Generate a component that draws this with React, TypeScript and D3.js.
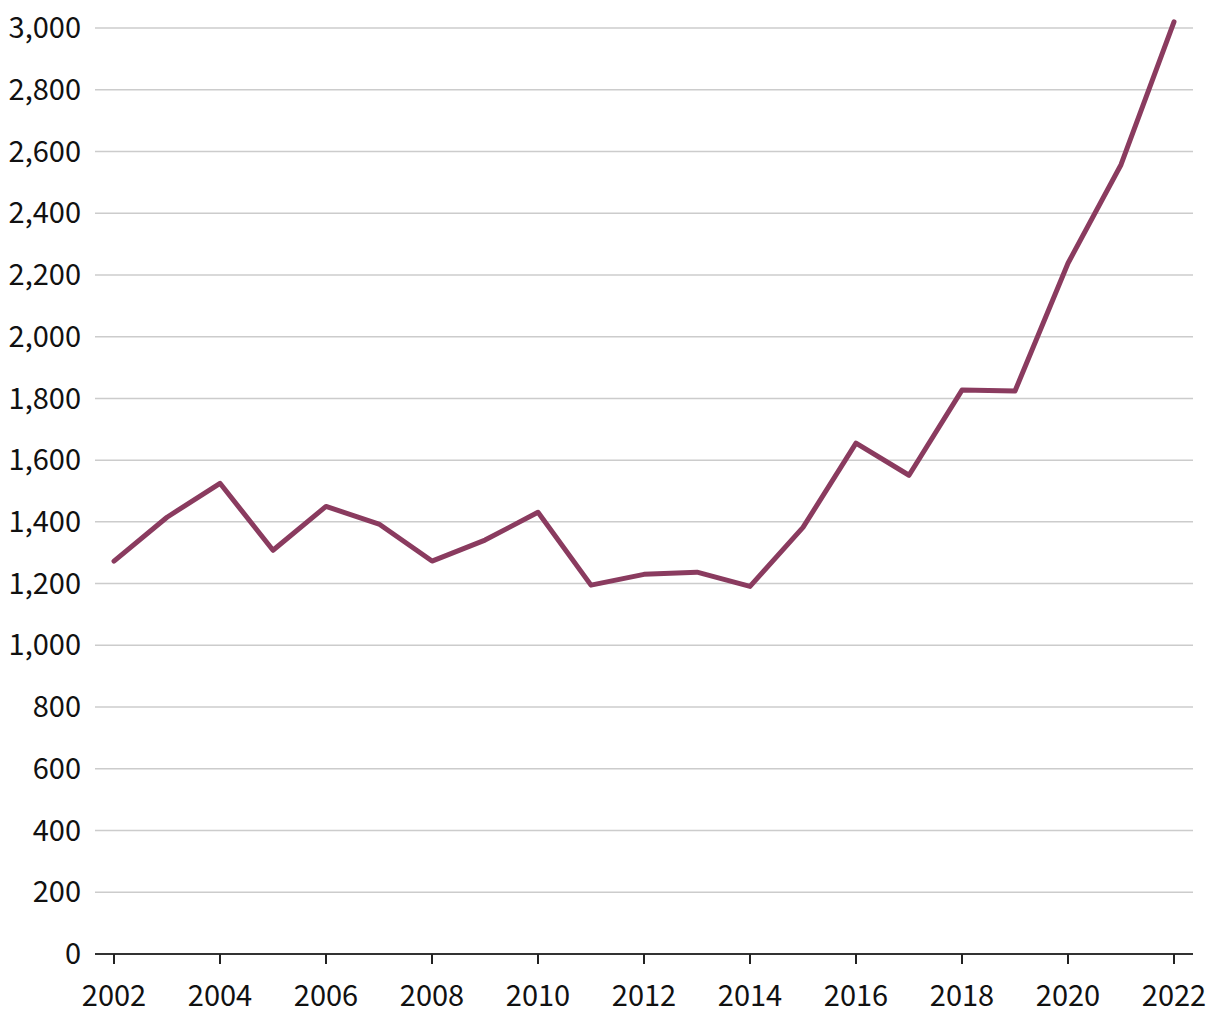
import React from "react";
import * as d3 from "d3";

const years = [2002, 2003, 2004, 2005, 2006, 2007, 2008, 2009, 2010, 2011, 2012, 2013, 2014, 2015, 2016, 2017, 2018, 2019, 2020, 2021, 2022];
const values = [1273, 1415, 1525, 1308, 1450, 1393, 1273, 1341, 1431, 1195, 1230, 1237, 1191, 1382, 1655, 1551, 1827, 1824, 2238, 2557, 3020];
const yTicks = [0, 200, 400, 600, 800, 1000, 1200, 1400, 1600, 1800, 2000, 2200, 2400, 2600, 2800, 3000];
const xTicks = [2002, 2004, 2006, 2008, 2010, 2012, 2014, 2016, 2018, 2020, 2022];

export default function App() {
  const W = 1220, H = 1020;
  const left = 95, right = 1193;
  const x = d3.scaleLinear().domain([2002, 2022]).range([114, 1174]);
  const y = d3.scaleLinear().domain([0, 3000]).range([954, 28]);
  const line = d3.line<number>().x((_, i) => x(years[i])).y((d) => y(d));
  const fmt = d3.format(",");
  const font = "'Noto Sans CJK JP', sans-serif";
  return (
    <svg width={W} height={H} style={{ position: "absolute", left: 0, top: 0, background: "#fff" }}>
      {yTicks.map((t) => (
        <g key={t}>
          {t > 0 && <line x1={left} x2={right} y1={y(t)} y2={y(t)} stroke="#cccccc" strokeWidth={1.5} />}
          <text x={81} y={y(t)} dy="0.35em" textAnchor="end" fontFamily={font} fontSize={29} fill="#111">
            {fmt(t)}
          </text>
        </g>
      ))}
      <line x1={left} x2={right} y1={y(0)} y2={y(0)} stroke="#333" strokeWidth={2} />
      {xTicks.map((t) => (
        <g key={t}>
          <line x1={x(t)} x2={x(t)} y1={y(0)} y2={y(0) + 10} stroke="#222" strokeWidth={2} />
          <text x={x(t)} y={1006} textAnchor="middle" fontFamily={font} fontSize={29} fill="#111">
            {t}
          </text>
        </g>
      ))}
      <path d={line(values) || ""} fill="none" stroke="#8a3b5f" strokeWidth={5} strokeLinejoin="round" strokeLinecap="round" />
    </svg>
  );
}
